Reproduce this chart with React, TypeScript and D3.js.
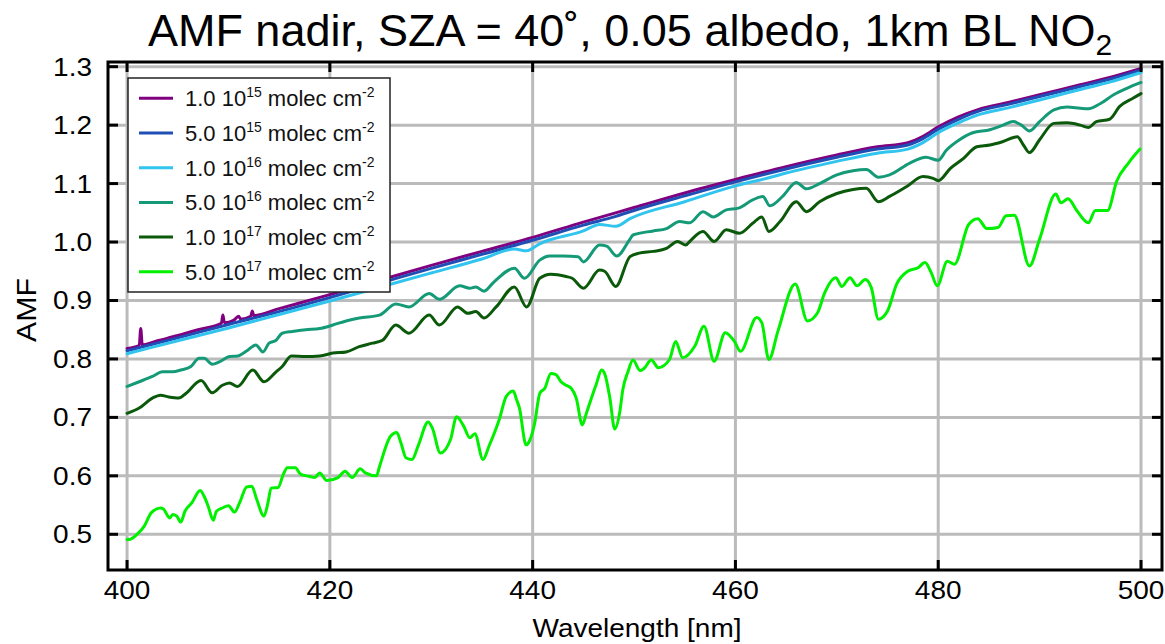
import React from "react";
import * as d3 from "d3";

// ---------- data (wavelength nm, AMF) ----------
const X_TICKS = [400, 420, 440, 460, 480, 500];
const Y_TICKS = [0.5, 0.6, 0.7, 0.8, 0.9, 1.0, 1.1, 1.2, 1.3];

const SERIES_LABELS = [
  { mant: "1.0", exp: "15" },
  { mant: "5.0", exp: "15" },
  { mant: "1.0", exp: "16" },
  { mant: "5.0", exp: "16" },
  { mant: "1.0", exp: "17" },
  { mant: "5.0", exp: "17" },
];
const SERIES_COLORS = ["#800080", "#1f4fb4", "#30c4ee", "#159a78", "#0b5a0b", "#00f000"];

const amf_1e15: [number, number][] = [
  [400.0, 0.818], [401.2, 0.823], [401.35, 0.852], [401.5, 0.824], [403, 0.831], [405, 0.840],
  [407, 0.850], [409.3, 0.861], [409.45, 0.875], [409.6, 0.862], [410.5, 0.866], [411.0, 0.873],
  [411.2, 0.868], [412.2, 0.873], [412.35, 0.882], [412.5, 0.874], [415, 0.886], [420, 0.910],
  [425, 0.935], [430, 0.960], [435, 0.984], [440, 1.008], [445, 1.034], [450, 1.059],
  [455, 1.084], [460, 1.107], [465, 1.129], [470, 1.149], [474, 1.163], [477, 1.170],
  [478.5, 1.181], [480, 1.197], [482, 1.214], [484, 1.227], [487, 1.239], [490, 1.252],
  [494, 1.269], [497, 1.282], [500, 1.297],
];

const amf_5e15: [number, number][] = [
  [400, 0.814], [405, 0.836], [410, 0.859], [415, 0.881], [420, 0.905], [425, 0.930],
  [430, 0.955], [435, 0.979], [440, 1.003], [445, 1.029], [448.2, 1.044], [450, 1.054],
  [455, 1.079], [460, 1.103], [465, 1.125], [470, 1.145], [474, 1.159], [477, 1.166],
  [478.5, 1.177], [480, 1.193], [482, 1.210], [484, 1.224], [487, 1.236], [490, 1.249],
  [494, 1.266], [497, 1.279], [500, 1.294],
];

const amf_1e16: [number, number][] = [
  [400, 0.809], [405, 0.831], [410, 0.853], [415, 0.876], [420, 0.899], [425, 0.923],
  [430, 0.947], [435, 0.971], [438.2, 0.988], [439.4, 0.985], [440.7, 0.997], [445, 1.019],
  [446.6, 1.030], [448.2, 1.027], [449.6, 1.040], [455, 1.069], [460, 1.096], [463.3, 1.110],
  [465, 1.118], [470, 1.138], [474, 1.152], [477, 1.159], [478.5, 1.170], [480, 1.187],
  [482, 1.204], [484, 1.218], [487, 1.230], [490, 1.243], [494, 1.261], [497, 1.274],
  [500, 1.290],
];

const amf_5e16: [number, number][] = [
  [400.0, 0.753], [401.2, 0.761], [402.5, 0.770], [403.5, 0.778], [404.5, 0.778], [405.3, 0.781],
  [406.3, 0.787], [407.1, 0.801], [407.6, 0.801], [408.4, 0.791], [409.1, 0.795], [410.1, 0.804],
  [410.9, 0.805], [411.9, 0.815], [412.7, 0.824], [413.4, 0.812], [414.0, 0.827], [414.7, 0.832],
  [415.3, 0.844], [416.3, 0.847], [417.6, 0.850], [419.0, 0.852], [420.3, 0.858], [421.6, 0.865],
  [422.9, 0.870], [424.9, 0.875], [426.5, 0.894], [427.8, 0.889], [429.8, 0.912], [430.8, 0.902],
  [432.8, 0.925], [433.8, 0.921], [434.4, 0.923], [435.2, 0.916], [436.2, 0.932], [438.2, 0.955],
  [439.2, 0.938], [440.7, 0.969], [441.7, 0.976], [443.0, 0.976], [444.5, 0.975], [445.0, 0.966],
  [446.6, 0.995], [447.3, 0.993], [448.3, 0.976], [449.6, 1.005], [449.9, 1.012], [451.9, 1.019],
  [453.2, 1.023], [454.5, 1.035], [455.5, 1.033], [456.8, 1.052], [457.8, 1.043], [459.1, 1.055],
  [460.3, 1.058], [461.7, 1.072], [462.7, 1.078], [463.4, 1.062], [464.7, 1.079], [466.0, 1.102],
  [467.0, 1.091], [468.3, 1.100], [470.0, 1.115], [471.6, 1.122], [472.9, 1.124], [474.1, 1.111],
  [475.2, 1.115], [477.2, 1.135], [478.8, 1.145], [480.0, 1.140], [480.8, 1.157], [482.1, 1.175],
  [483.4, 1.187], [485.1, 1.192], [486.4, 1.200], [487.4, 1.206], [488.2, 1.200], [489.0, 1.190],
  [490.0, 1.206], [491.4, 1.226], [492.7, 1.231], [494.0, 1.229], [494.8, 1.228], [496.0, 1.237],
  [497.3, 1.252], [498.6, 1.263], [500.0, 1.273],
];

const amf_1e17: [number, number][] = [
  [400.0, 0.707], [401.2, 0.716], [402.5, 0.733], [403.3, 0.738], [404.1, 0.735], [405.1, 0.733],
  [405.8, 0.741], [407.3, 0.763], [408.4, 0.742], [409.4, 0.755], [410.1, 0.759], [410.9, 0.753],
  [412.4, 0.781], [413.5, 0.761], [414.7, 0.778], [415.3, 0.787], [416.2, 0.805], [417.6, 0.804],
  [419.0, 0.805], [420.3, 0.810], [421.6, 0.812], [422.9, 0.821], [424.2, 0.827], [425.2, 0.832],
  [426.5, 0.858], [427.8, 0.844], [429.8, 0.875], [430.8, 0.858], [432.6, 0.889], [433.6, 0.878],
  [434.4, 0.881], [435.2, 0.870], [436.4, 0.889], [438.2, 0.923], [439.4, 0.889], [440.7, 0.938],
  [441.8, 0.945], [443.3, 0.941], [443.9, 0.938], [445.0, 0.921], [446.6, 0.952], [447.1, 0.950],
  [448.2, 0.924], [449.6, 0.975], [450.5, 0.981], [451.9, 0.984], [453.2, 0.989], [454.3, 1.001],
  [455.1, 0.995], [455.6, 1.003], [456.8, 1.018], [457.9, 1.001], [459.1, 1.021], [460.4, 1.015],
  [461.7, 1.032], [462.6, 1.043], [463.3, 1.018], [464.4, 1.035], [466.0, 1.069], [467.0, 1.052],
  [468.3, 1.069], [470.0, 1.083], [471.6, 1.090], [472.9, 1.092], [474.1, 1.069], [475.2, 1.078],
  [476.9, 1.095], [478.5, 1.112], [479.5, 1.109], [480.0, 1.105], [481.2, 1.126], [482.5, 1.143],
  [483.8, 1.163], [485.1, 1.166], [486.4, 1.172], [487.8, 1.180], [488.4, 1.166], [489.0, 1.153],
  [490.0, 1.175], [491.4, 1.203], [492.7, 1.204], [494.0, 1.200], [494.8, 1.196], [495.6, 1.206],
  [496.9, 1.210], [497.9, 1.232], [499.2, 1.246], [500.0, 1.254],
];

const amf_5e17: [number, number][] = [
  [400.0, 0.491], [400.2, 0.491], [401.05, 0.501], [401.7, 0.514], [402.4, 0.537], [403.3, 0.545],
  [403.6, 0.543], [404.2, 0.528], [404.5, 0.534], [404.9, 0.531], [405.3, 0.521], [405.7, 0.539],
  [406.4, 0.554], [407.2, 0.575], [407.6, 0.565], [408.0, 0.548], [408.5, 0.524], [408.8, 0.539],
  [409.4, 0.545], [410.0, 0.549], [410.6, 0.538], [411.1, 0.554], [411.8, 0.581], [412.3, 0.582],
  [412.8, 0.559], [413.5, 0.531], [413.9, 0.554], [414.2, 0.579], [414.9, 0.580], [415.4, 0.602],
  [415.8, 0.614], [416.6, 0.614], [417.1, 0.603], [418.0, 0.599], [418.5, 0.597], [419.0, 0.605],
  [419.7, 0.592], [420.8, 0.597], [421.5, 0.608], [422.2, 0.597], [423.0, 0.612], [423.5, 0.605],
  [424.6, 0.600], [424.9, 0.616], [426.0, 0.668], [426.6, 0.674], [427.0, 0.657], [427.5, 0.631],
  [428.1, 0.628], [428.7, 0.651], [429.7, 0.692], [430.1, 0.682], [430.9, 0.639], [431.9, 0.662],
  [432.5, 0.701], [433.2, 0.685], [433.8, 0.665], [434.3, 0.672], [435.1, 0.628], [435.7, 0.651],
  [436.7, 0.696], [437.4, 0.736], [438.1, 0.745], [438.4, 0.731], [438.7, 0.716], [439.35, 0.653],
  [439.7, 0.660], [440.2, 0.690], [440.7, 0.741], [441.2, 0.750], [441.8, 0.775], [442.3, 0.773],
  [442.8, 0.761], [443.3, 0.755], [443.8, 0.750], [444.3, 0.733], [444.9, 0.687], [445.3, 0.707],
  [445.8, 0.733], [446.3, 0.758], [446.8, 0.781], [447.1, 0.775], [447.6, 0.735], [448.1, 0.680],
  [448.6, 0.710], [448.9, 0.748], [449.4, 0.778], [449.9, 0.798], [450.6, 0.780], [451.0, 0.784],
  [451.7, 0.798], [452.4, 0.785], [453.5, 0.799], [454.1, 0.830], [454.8, 0.802], [456.0, 0.822],
  [456.9, 0.856], [457.9, 0.796], [459.0, 0.845], [459.9, 0.830], [460.5, 0.813], [462.1, 0.871],
  [462.6, 0.862], [463.3, 0.799], [464.2, 0.848], [465.9, 0.928], [467.1, 0.865], [468.1, 0.879],
  [468.8, 0.913], [469.9, 0.939], [470.5, 0.924], [471.3, 0.939], [472.0, 0.925], [472.8, 0.936],
  [473.4, 0.922], [474.1, 0.868], [475.0, 0.882], [475.9, 0.928], [477.0, 0.950], [478.0, 0.956],
  [478.7, 0.965], [479.3, 0.948], [479.9, 0.925], [480.9, 0.967], [481.6, 0.962], [483.0, 1.030],
  [483.9, 1.040], [484.8, 1.023], [485.9, 1.025], [486.7, 1.045], [487.5, 1.046], [489.0, 0.959],
  [490.0, 1.005], [491.6, 1.082], [492.1, 1.067], [492.8, 1.074], [493.7, 1.053], [494.8, 1.033],
  [495.5, 1.054], [496.7, 1.054], [497.6, 1.104], [498.8, 1.136], [499.9, 1.159],
];

const SERIES_DATA = [amf_1e15, amf_5e15, amf_1e16, amf_5e16, amf_1e17, amf_5e17];

// ---------- layout ----------
const W = 1165;
const H = 644;
const PL = 108, PR = 1162, PT = 62, PB = 570;
const FONT = "'Liberation Sans', Arial, Helvetica, sans-serif";

export default function App() {
  const x = d3.scaleLinear().domain([398.12, 502.07]).range([PL, PR]);
  const y = d3.scaleLinear().domain([0.4389, 1.308]).range([PB, PT]);
  const line = d3
    .line<[number, number]>()
    .x((d) => x(d[0]))
    .y((d) => y(d[1]))
    .curve(d3.curveMonotoneX);

  const legX = 128, legY = 78, legW = 262, legH = 214;
  const rowY0 = 98.3, rowDY = 34.7;

  return (
    <svg
      width={W}
      height={H}
      style={{ position: "absolute", left: 0, top: 0, display: "block", background: "#fff" }}
      fontFamily={FONT}
    >
      <rect x={0} y={0} width={W} height={H} fill="#fff" />
      {/* title */}
      <text x={630} y={46} fontSize={45} textAnchor="middle" fill="#000">
        AMF nadir, SZA = 40˚, 0.05 albedo, 1km BL NO
        <tspan fontSize={30} dy={9}>2</tspan>
      </text>

      {/* grid */}
      {X_TICKS.map((t) => (
        <line key={"gx" + t} x1={x(t)} x2={x(t)} y1={PT} y2={PB} stroke="#bbbbbb" strokeWidth={3} />
      ))}
      {Y_TICKS.map((t) => (
        <line key={"gy" + t} x1={PL} x2={PR} y1={y(t)} y2={y(t)} stroke="#bbbbbb" strokeWidth={3} />
      ))}

      {/* data */}
      <g fill="none" strokeLinejoin="round" strokeLinecap="round">
        {SERIES_DATA.map((s, i) => (
          <path key={"s" + i} d={line(s) || ""} stroke={SERIES_COLORS[i]} strokeWidth={3} />
        ))}
      </g>

      {/* legend */}
      <rect x={legX} y={legY} width={legW} height={legH} fill="#fff" stroke="#222" strokeWidth={1.5} />
      {SERIES_LABELS.map((lab, i) => {
        const ry = rowY0 + i * rowDY;
        return (
          <g key={"leg" + i}>
            <line x1={139} x2={173} y1={ry} y2={ry} stroke={SERIES_COLORS[i]} strokeWidth={3} />
            <text x={185} y={ry + 8} fontSize={22} fill="#111">
              {lab.mant + " 10"}
              <tspan fontSize={14} dy={-9}>{lab.exp}</tspan>
              <tspan dy={9}>{" molec cm"}</tspan>
              <tspan fontSize={14} dy={-9}>-2</tspan>
            </text>
          </g>
        );
      })}

      {/* frame */}
      <rect x={PL} y={PT} width={PR - PL} height={PB - PT} fill="none" stroke="#000" strokeWidth={3} />

      {/* ticks */}
      {X_TICKS.map((t) => (
        <g key={"tx" + t}>
          <line x1={x(t)} x2={x(t)} y1={PB} y2={PB - 10} stroke="#000" strokeWidth={3} />
          <line x1={x(t)} x2={x(t)} y1={PT} y2={PT + 10} stroke="#000" strokeWidth={3} />
          <text
            transform={`translate(${x(t)},${599}) scale(1.12,1)`}
            fontSize={25}
            textAnchor="middle"
            fill="#000"
          >
            {t}
          </text>
        </g>
      ))}
      {Y_TICKS.map((t) => (
        <g key={"ty" + t}>
          <line x1={PL} x2={PL + 10} y1={y(t)} y2={y(t)} stroke="#000" strokeWidth={3} />
          <line x1={PR} x2={PR - 10} y1={y(t)} y2={y(t)} stroke="#000" strokeWidth={3} />
          <text
            transform={`translate(92,${y(t) + 9}) scale(1.12,1)`}
            fontSize={25}
            textAnchor="end"
            fill="#000"
          >
            {t.toFixed(1)}
          </text>
        </g>
      ))}

      {/* axis titles */}
      <text
        transform={`translate(637,637) scale(1.12,1)`}
        fontSize={25}
        textAnchor="middle"
        fill="#000"
      >
        Wavelength [nm]
      </text>
      <text
        transform={`translate(36,310) rotate(-90) scale(1.12,1)`}
        fontSize={27}
        textAnchor="middle"
        fill="#000"
      >
        AMF
      </text>
    </svg>
  );
}
